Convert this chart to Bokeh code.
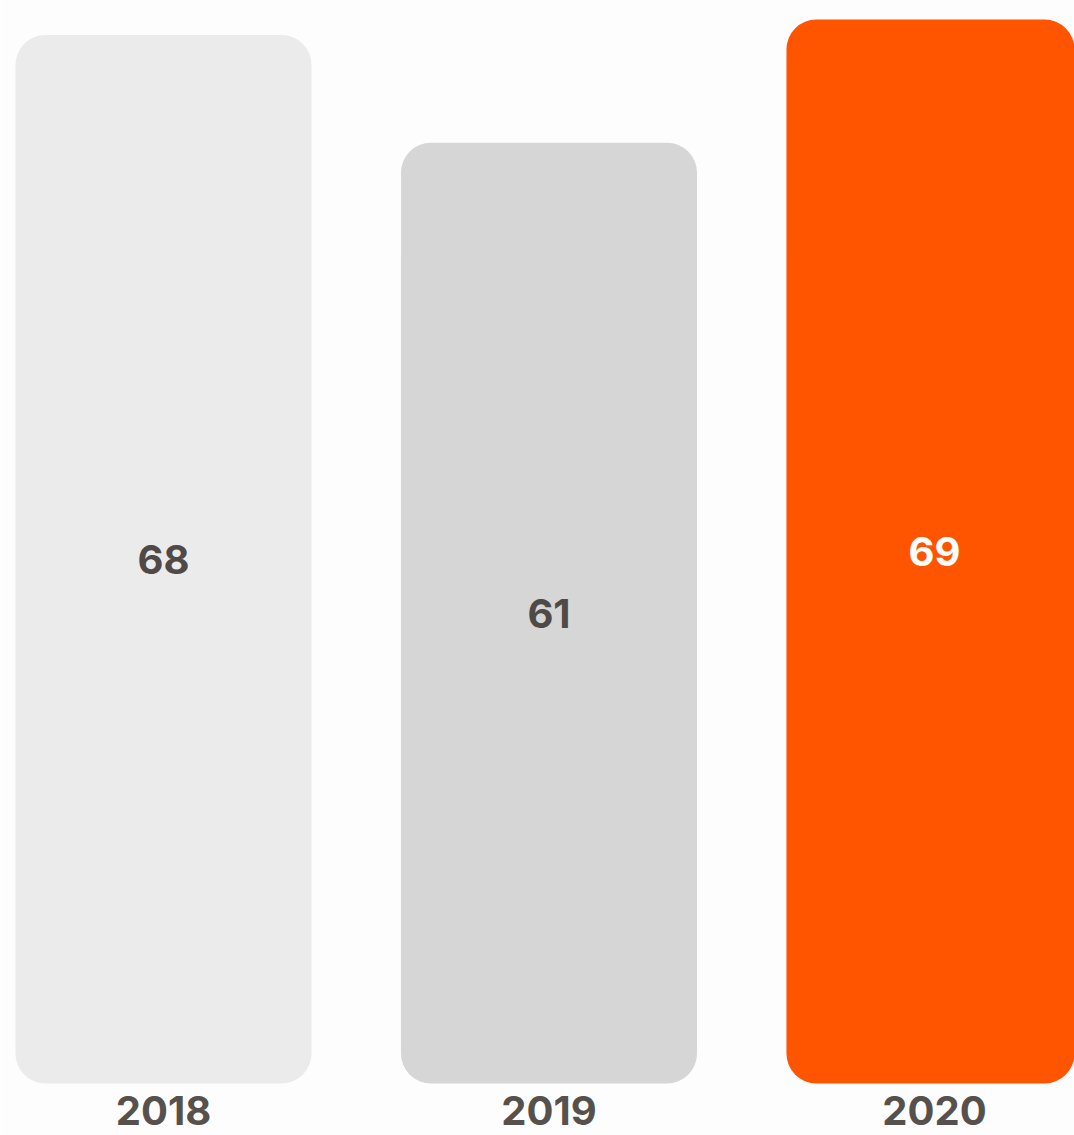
from bokeh.plotting import figure
from bokeh.models import ColumnDataSource, Range1d
from bokeh.core.properties import value
from bokeh.embed import file_html
from bokeh.resources import INLINE

years = ["2018", "2019", "2020"]
values = [68, 61, 69]
bar_colors = ["#ebebeb", "#d6d6d6", "#ff5500"]
label_colors = ["#4f4a47", "#4f4a47", "#ffffff"]

xs = list(range(len(years)))
src = ColumnDataSource(dict(
    x=xs, top=values, color=bar_colors, lcolor=label_colors,
    mid=[v / 2 for v in values], label=[str(v) for v in values], year=years,
    ybase=[-2.7] * len(years),
))

p = figure(width=1074, height=1135, output_backend="svg", toolbar_location=None,
           x_range=Range1d(-0.4228, 2.3632), y_range=Range1d(-3.37, 70.23),
           min_border=0, background_fill_color="#fdfdfd", border_fill_color="#fdfdfd")
p.axis.visible = False
p.grid.visible = False
p.outline_line_color = None

p.vbar(x="x", top="top", bottom=0, width=0.768, fill_color="color", line_color=None,
       border_radius=30, source=src)
p.text(x="x", y="mid", text="label", text_color="lcolor", text_align="center",
       text_baseline="middle", text_font=value("Inter"), text_font_style="bold",
       text_font_size="40px", source=src)
p.text(x="x", y="ybase", text="year", text_color="#57514d", text_align="center",
       text_baseline="bottom", text_font=value("Inter"), text_font_style="bold",
       text_font_size="40px", source=src)

open("out.html", "w").write(file_html(p, INLINE))
